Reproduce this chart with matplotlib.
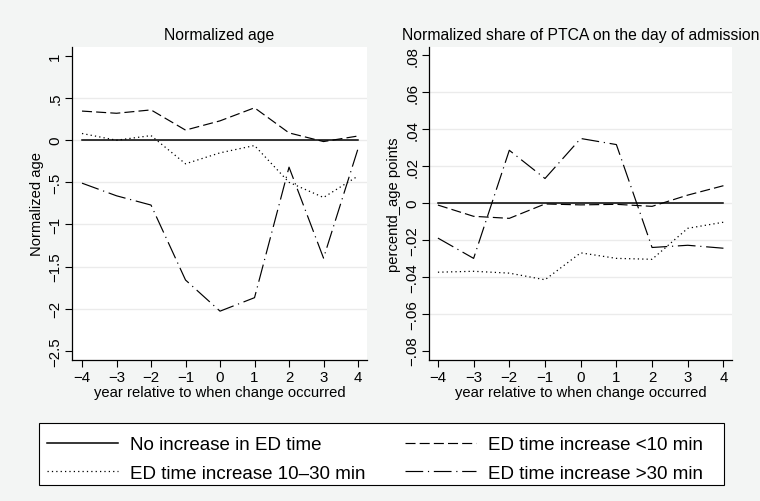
import matplotlib
matplotlib.use("Agg")
import matplotlib.pyplot as plt
from matplotlib.lines import Line2D
from matplotlib.patches import Rectangle

plt.rcParams['font.family'] = ['Liberation Sans', 'DejaVu Sans']

# data
years = [-4, -3, -2, -1, 0, 1, 2, 3, 4]
series_names = ["No increase in ED time", "ED time increase <10 min",
                "ED time increase 10\u201330 min", "ED time increase >30 min"]

age_none = [0, 0, 0, 0, 0, 0, 0, 0, 0]
age_lt10 = [0.346, 0.32, 0.36, 0.12, 0.23, 0.385, 0.087, -0.016, 0.05]
age_10_30 = [0.08, 0.0, 0.055, -0.28, -0.15, -0.063, -0.50, -0.68, -0.425]
age_gt30 = [-0.51, -0.66, -0.77, -1.66, -2.03, -1.87, -0.32, -1.40, -0.10]

ptca_none = [0, 0, 0, 0, 0, 0, 0, 0, 0]
ptca_lt10 = [-0.0011, -0.0072, -0.0083, -0.0005, -0.001, -0.0007, -0.0018, 0.0043, 0.0094]
ptca_10_30 = [-0.0375, -0.037, -0.038, -0.0416, -0.027, -0.030, -0.0305, -0.0137, -0.0104]
ptca_gt30 = [-0.019, -0.030, 0.0286, 0.0133, 0.035, 0.0317, -0.0241, -0.0229, -0.0245]

age_ticks = [1, 0.5, 0, -0.5, -1, -1.5, -2, -2.5]
age_ticklabels = ["1", ".5", "0", "\u2212.5", "\u22121", "\u22121.5", "\u22122", "\u22122.5"]
ptca_ticks = [0.08, 0.06, 0.04, 0.02, 0, -0.02, -0.04, -0.06, -0.08]
ptca_ticklabels = [".08", ".06", ".04", ".02", "0", "\u2212.02", "\u2212.04", "\u2212.06", "\u2212.08"]
x_ticklabels = ["\u22124", "\u22123", "\u22122", "\u22121", "0", "1", "2", "3", "4"]

styles = [
    dict(linestyle="-", lw=1.1),
    dict(linestyle=(0, (8.5, 3.5)), lw=0.85),
    dict(linestyle=(0, (1, 2.5)), lw=0.9),
    dict(linestyle=(0, (15, 4, 1, 4)), lw=0.85),
]

bg = "#f3f5f4"
fig = plt.figure(figsize=(7.6, 5.02), dpi=100, facecolor=bg)
ax1 = fig.add_axes([72 / 760, 1 - 361 / 502, 295 / 760, 313 / 502])
ax2 = fig.add_axes([429 / 760, 1 - 361 / 502, 303 / 760, 313 / 502])


def style_axis(ax, ticks, ticklabels, ylim, xlim, title, ylabel):
    ax.set_facecolor("white")
    for t in ticks[1:-1]:
        ax.axhline(t, color="#ebebeb", lw=1.0, zorder=0)
    ax.set_xlim(*xlim)
    ax.set_ylim(*ylim)
    ax.set_xticks(years)
    ax.set_xticklabels(x_ticklabels)
    ax.set_yticks(ticks)
    ax.set_yticklabels(ticklabels, rotation=90, va="center")
    ax.tick_params(direction="out", length=5, width=0.8, labelsize=10.8, pad=2)
    ax.spines["top"].set_visible(False)
    ax.spines["right"].set_visible(False)
    ax.spines["left"].set_linewidth(0.9)
    ax.spines["bottom"].set_linewidth(0.9)
    ax.set_title(title, fontsize=11.3, pad=6)
    ax.set_xlabel("year relative to when change occurred", fontsize=10.6, labelpad=1)
    ax.set_ylabel(ylabel, fontsize=10.6, labelpad=3)


left = [age_none, age_lt10, age_10_30, age_gt30]
right = [ptca_none, ptca_lt10, ptca_10_30, ptca_gt30]
for vals, st in zip(left, styles):
    ax1.plot(years, vals, color="black", **st)
for vals, st in zip(right, styles):
    ax2.plot(years, vals, color="black", **st)

style_axis(ax1, age_ticks, age_ticklabels, (-2.61, 1.107), (-4.29, 4.26),
           "Normalized age", "Normalized age")
style_axis(ax2, ptca_ticks, ptca_ticklabels, (-0.0851, 0.0846), (-4.25, 4.24),
           "Normalized share of PTCA on the day of admission", "percentd_age points")

# legend frame drawn separately so its padding matches the reference
fig.patches.append(Rectangle((39 / 760, 1 - 486 / 502), 685 / 760, 62 / 502,
                             transform=fig.transFigure, facecolor="white",
                             edgecolor="black", lw=0.8, zorder=1))

handles = [Line2D([], [], color="black", **st) for st in styles]
order = [0, 2, 1, 3]
leg = fig.legend([handles[i] for i in order], [series_names[i] for i in order],
                 ncol=2, loc="upper left", bbox_to_anchor=(47 / 760, 1 - 437 / 502),
                 fontsize=13.5, frameon=False, handlelength=3.8,
                 handletextpad=0.64, columnspacing=2.1, labelspacing=0.62,
                 borderpad=0, borderaxespad=0)
leg.set_zorder(2)

fig.savefig("out.png", dpi=100, facecolor=bg)
